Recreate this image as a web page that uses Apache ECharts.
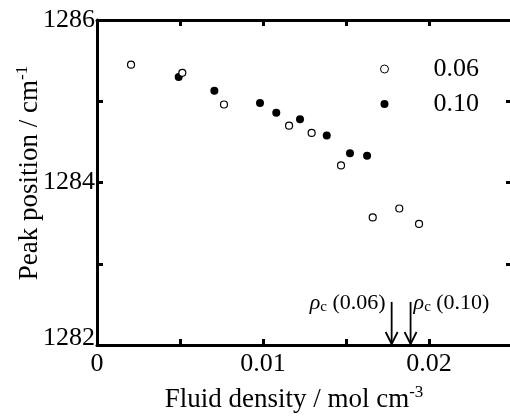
<!DOCTYPE html>
<html>
<head>
<meta charset="utf-8">
<script src="https://cdn.jsdelivr.net/npm/echarts@6/dist/echarts.min.js"></script>
<style>html,body{margin:0;padding:0;background:#fff;}#c{width:510px;height:417px;}</style>
</head>
<body>
<div id="c"></div>
<script>
// ---- data ----
var seriesNames = ['0.06', '0.10'];
var x06 = [0.00205, 0.00514, 0.00765, 0.01157, 0.01293, 0.0147, 0.01661, 0.01821, 0.0194];
var y06 = [1285.45, 1285.35, 1284.96, 1284.70, 1284.61, 1284.21, 1283.57, 1283.68, 1283.49];
var x10 = [0.00492, 0.00707, 0.00982, 0.0108, 0.01223, 0.01384, 0.01524, 0.01627];
var y10 = [1285.30, 1285.13, 1284.98, 1284.86, 1284.78, 1284.58, 1284.36, 1284.33];
var xTickLabels = ['0', '', '0.01', '', '0.02', ''];
var yTickLabels = ['1282', '', '1284', '', '1286'];
var rhoCx = [0.01775, 0.01889];
var rhoCLabels = ['(0.06)', '(0.10)'];
var arrowTop = 1282.53;
var arrowBottom = 1282.0;

var FONT = '"Liberation Serif", "DejaVu Serif", serif';
function pairs(xs, ys) { return xs.map(function (x, i) { return [x, ys[i]]; }); }

var chart = echarts.init(document.getElementById('c'), null, { renderer: 'canvas' });

var tickCommon = { show: true, inside: true, length: 6, lineStyle: { color: '#000', width: 3 } };
var lineCommon = { show: true, onZero: false, lineStyle: { color: '#000', width: 3 } };

var option = {
  animation: false,
  backgroundColor: '#fff',
  grid: { left: 97, top: 20, width: 415, height: 325, containLabel: false, outerBoundsMode: 'none' },
  xAxis: [
    {
      type: 'value', min: 0, max: 0.025, interval: 0.005, position: 'bottom',
      axisLine: lineCommon, axisTick: tickCommon, splitLine: { show: false },
      axisLabel: {
        margin: 6, color: '#000', fontFamily: FONT, fontSize: 26,
        formatter: function (v, i) { return xTickLabels[i] || ''; }
      }
    },
    {
      type: 'value', min: 0, max: 0.025, interval: 0.005, position: 'top',
      axisLine: lineCommon, axisTick: tickCommon, splitLine: { show: false },
      axisLabel: { show: false }
    }
  ],
  yAxis: [
    {
      type: 'value', min: 1282, max: 1286, interval: 1, position: 'left',
      axisLine: lineCommon, axisTick: tickCommon, splitLine: { show: false },
      axisLabel: {
        margin: 2, color: '#000', fontFamily: FONT, fontSize: 26,
        formatter: function (v, i) {
          var t = yTickLabels[i] || '';
          if (i === 0 && t) return '{lo|' + t + '}';
          return t;
        },
        rich: { lo: { fontFamily: FONT, fontSize: 26, color: '#000', padding: [0, 0, 14, 0] } }
      }
    },
    {
      type: 'value', min: 1282, max: 1286, interval: 1, position: 'right',
      axisLine: lineCommon, axisTick: tickCommon, splitLine: { show: false },
      axisLabel: { show: false }
    }
  ],
  legend: {
    orient: 'vertical', left: 380, top: 56, padding: 0, itemGap: 9,
    itemWidth: 8, itemHeight: 8,
    data: [
      { name: seriesNames[0], itemStyle: { color: '#fff', borderColor: '#000', borderWidth: 1 } },
      { name: seriesNames[1], itemStyle: { color: '#000', borderWidth: 0 } }
    ],
    textStyle: { fontFamily: FONT, fontSize: 26, color: '#000', padding: [0, 0, 0, 40] }
  },
  graphic: [
    {
      type: 'text', x: 294, y: 400,
      style: {
        text: 'Fluid density / mol cm{sup|-3}',
        font: '27px ' + FONT, fill: '#000', align: 'center', verticalAlign: 'middle',
        rich: { sup: { fontFamily: FONT, fontSize: 17, fill: '#000', padding: [0, 0, 14, 0] } }
      }
    },
    {
      type: 'text', x: 30, y: 173, rotation: Math.PI / 2,
      style: {
        text: 'Peak position / cm{sup|-1}',
        font: '27px ' + FONT, fill: '#000', align: 'center', verticalAlign: 'middle',
        rich: { sup: { fontFamily: FONT, fontSize: 17, fill: '#000', padding: [0, 0, 14, 0] } }
      }
    }
  ],
  series: [
    {
      name: seriesNames[0], type: 'scatter', symbol: 'circle', symbolSize: 7,
      itemStyle: { color: '#fff', borderColor: '#000', borderWidth: 1.2, opacity: 1 },
      data: pairs(x06, y06), z: 3
    },
    {
      name: seriesNames[1], type: 'scatter', symbol: 'circle', symbolSize: 8,
      itemStyle: { color: '#000', borderColor: '#000', borderWidth: 0, opacity: 1 },
      data: pairs(x10, y10), z: 2
    },
    {
      type: 'custom', silent: true, z: 4,
      data: rhoCx.map(function (x, i) { return [x, arrowTop, arrowBottom, i]; }),
      renderItem: function (params, api) {
        var top = api.coord([api.value(0), api.value(1)]);
        var bot = api.coord([api.value(0), api.value(2)]);
        var idx = api.value(3);
        var hw = 6, hl = 13;
        var left = idx === 0;
        return {
          type: 'group',
          children: [
            { type: 'line', shape: { x1: top[0], y1: top[1], x2: bot[0], y2: bot[1] - 1 },
              style: { stroke: '#000', lineWidth: 1.8 } },
            { type: 'polyline', shape: { points: [[bot[0] - hw, bot[1] - hl], [bot[0], bot[1] - 1], [bot[0] + hw, bot[1] - hl]] },
              style: { stroke: '#000', lineWidth: 1.8, fill: null } },
            { type: 'text',
              x: left ? top[0] - 6 : top[0] + 3, y: top[1] + 1,
              style: {
                text: '{r|ρ}{c|c} ' + rhoCLabels[idx],
                font: '22px ' + FONT, fill: '#000',
                align: left ? 'right' : 'left', verticalAlign: 'middle',
                rich: {
                  r: { fontFamily: FONT, fontSize: 22, fontStyle: 'italic', fill: '#000' },
                  c: { fontFamily: FONT, fontSize: 15, fill: '#000', padding: [8, 0, 0, 0] }
                }
              }
            }
          ]
        };
      }
    }
  ]
};
chart.setOption(option);
</script>
</body>
</html>
